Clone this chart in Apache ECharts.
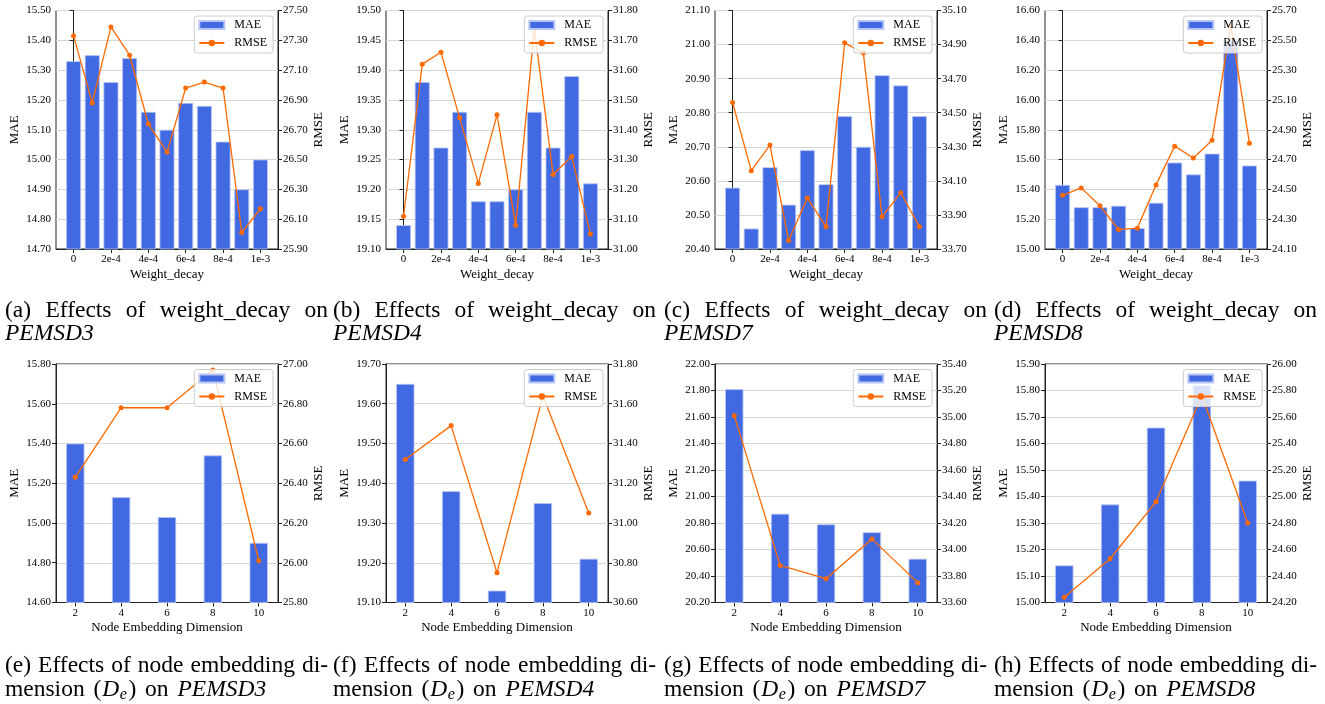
<!DOCTYPE html>
<html>
<head>
<meta charset="utf-8">
<style>
  html, body { margin: 0; padding: 0; background: #fff; }
  #main { width: 1325px; height: 704px; }
</style>
<script src="https://cdn.jsdelivr.net/npm/echarts@6/dist/echarts.min.js"></script>
</head>
<body>
<div id="main"></div>
<script>
// x positions and tick labels
const decayX = [0, 1, 2, 3, 4, 5, 6, 7, 8, 9, 10];
const decayTicks = [0, 2, 4, 6, 8, 10];
const decayTickLabels = ['0', '2e-4', '4e-4', '6e-4', '8e-4', '1e-3'];
const dimX = [2, 4, 6, 8, 10];
const dimTickLabels = ['2', '4', '6', '8', '10'];

// weight_decay panels
const maeA = [15.33, 15.35, 15.26, 15.34, 15.16, 15.10, 15.19, 15.18, 15.06, 14.90, 15.00];
const rmseA = [27.33, 26.88, 27.39, 27.20, 26.74, 26.55, 26.98, 27.02, 26.98, 26.01, 26.17];
const maeB = [19.14, 19.38, 19.27, 19.33, 19.18, 19.18, 19.20, 19.33, 19.27, 19.39, 19.21];
const rmseB = [31.11, 31.62, 31.66, 31.44, 31.22, 31.45, 31.08, 31.74, 31.25, 31.31, 31.05];
const maeC = [20.58, 20.46, 20.64, 20.53, 20.69, 20.59, 20.79, 20.70, 20.91, 20.88, 20.79];
const rmseC = [34.56, 34.16, 34.31, 33.75, 34.00, 33.83, 34.91, 34.85, 33.89, 34.03, 33.83];
const maeD = [15.43, 15.28, 15.28, 15.29, 15.14, 15.31, 15.58, 15.50, 15.64, 16.40, 15.56];
const rmseD = [24.46, 24.51, 24.39, 24.23, 24.24, 24.53, 24.79, 24.71, 24.83, 25.60, 24.81];

// node embedding dimension panels
const maeE = [15.40, 15.13, 15.03, 15.34, 14.90];
const rmseE = [26.43, 26.78, 26.78, 26.97, 26.01];
const maeF = [19.65, 19.38, 19.13, 19.35, 19.21];
const rmseF = [31.32, 31.49, 30.75, 31.64, 31.05];
const maeG = [21.81, 20.87, 20.79, 20.73, 20.53];
const rmseG = [35.01, 33.88, 33.78, 34.08, 33.75];
const maeH = [15.14, 15.37, 15.66, 15.82, 15.46];
const rmseH = [24.24, 24.53, 24.96, 25.76, 24.80];

// axis ranges [min, max, interval]
const maeAxes = [[14.7, 15.5, 0.1], [19.1, 19.5, 0.05], [20.4, 21.1, 0.1], [15.0, 16.6, 0.2],
                 [14.6, 15.8, 0.2], [19.1, 19.7, 0.1], [20.2, 22.0, 0.2], [15.0, 15.9, 0.1]];
const rmseAxes = [[25.9, 27.5, 0.2], [31.0, 31.8, 0.1], [33.7, 35.1, 0.2], [24.1, 25.7, 0.2],
                  [25.8, 27.0, 0.2], [30.6, 31.8, 0.2], [33.6, 35.4, 0.2], [24.2, 26.0, 0.2]];
const datasets = ['PEMSD3', 'PEMSD4', 'PEMSD7', 'PEMSD8'];
const letters = ['a', 'b', 'c', 'd', 'e', 'f', 'g', 'h'];

const maeAll = [maeA, maeB, maeC, maeD, maeE, maeF, maeG, maeH];
const rmseAll = [rmseA, rmseB, rmseC, rmseD, rmseE, rmseF, rmseG, rmseH];

const FONT = 'Liberation Serif';
const colLeft = [56, 386, 715, 1045];
const rowTop = [10.5, 364];
const gridW = 222, gridH = 238.5;
const blue = '#4169e1', orange = '#ff6a00', spine = '#222';

const grids = [], xAxes = [], yAxes = [], series = [], legends = [];

for (let i = 0; i < 8; i++) {
  const row = i < 4 ? 0 : 1;
  const col = i % 4;
  const isDecay = row === 0;
  const xs = isDecay ? decayX : dimX;
  const ticks = isDecay ? decayTicks : dimX;
  const tickLabels = isDecay ? decayTickLabels : dimTickLabels;
  const xmin = isDecay ? -0.94 : 1.16;
  const xmax = isDecay ? 10.94 : 10.84;
  const barW = 0.8 * gridW / (xmax - xmin);

  grids.push({
    left: colLeft[col], top: rowTop[row], width: gridW, height: gridH,
    show: true, borderColor: spine, borderWidth: 1, backgroundColor: 'transparent'
  });

  xAxes.push({
    type: 'value', gridIndex: i, min: xmin, max: xmax,
    name: isDecay ? 'Weight_decay' : 'Node Embedding Dimension',
    nameLocation: 'middle', nameGap: 19,
    nameTextStyle: { fontFamily: FONT, fontSize: 13, color: '#000' },
    axisLine: { show: true, onZero: false, lineStyle: { color: spine } },
    axisTick: { show: true, length: 4, customValues: ticks, lineStyle: { color: spine } },
    axisLabel: {
      customValues: ticks, margin: 5,
      fontFamily: FONT, fontSize: 11, color: '#000',
      formatter: v => tickLabels[ticks.indexOf(v)]
    },
    splitLine: { show: false }
  });

  const ma = maeAxes[i], ra = rmseAxes[i];
  yAxes.push({
    type: 'value', gridIndex: i, position: 'left',
    min: ma[0], max: ma[1], interval: ma[2],
    name: 'MAE', nameLocation: 'middle', nameGap: 35, nameRotate: 90,
    nameTextStyle: { fontFamily: FONT, fontSize: 13, color: '#000' },
    axisLine: { show: true, lineStyle: { color: spine } },
    axisTick: { show: true, length: 4, lineStyle: { color: spine } },
    axisLabel: { margin: 5, fontFamily: FONT, fontSize: 11, color: '#000', formatter: v => v.toFixed(2) },
    splitLine: { show: false }
  });
  yAxes.push({
    type: 'value', gridIndex: i, position: 'right',
    min: ra[0], max: ra[1], interval: ra[2],
    name: 'RMSE', nameLocation: 'middle', nameGap: 32, nameRotate: 90,
    nameTextStyle: { fontFamily: FONT, fontSize: 13, color: '#000' },
    axisLine: { show: true, lineStyle: { color: spine } },
    axisTick: { show: true, length: 4, lineStyle: { color: spine } },
    axisLabel: { margin: 5, fontFamily: FONT, fontSize: 11, color: '#000', formatter: v => v.toFixed(2) },
    splitLine: { show: true, lineStyle: { color: '#d6d6d6', width: 1 } }
  });

  series.push({
    name: 'MAE', type: 'bar', xAxisIndex: i, yAxisIndex: 2 * i,
    barWidth: barW, clip: true,
    itemStyle: { color: blue, borderColor: '#b9c6f4', borderWidth: 0.8 },
    data: maeAll[i].map((v, k) => [xs[k], v])
  });
  series.push({
    name: 'RMSE', type: 'line', xAxisIndex: i, yAxisIndex: 2 * i + 1,
    symbol: 'circle', symbolSize: 5,
    lineStyle: { color: orange, width: 1.3 },
    itemStyle: { color: orange },
    data: rmseAll[i].map((v, k) => [xs[k], v])
  });

  legends.push({
    orient: 'vertical',
    right: 1325 - (colLeft[col] + gridW - 5),
    top: rowTop[row] + 5.5,
    itemWidth: 25, itemHeight: 8, itemGap: 6,
    padding: [3, 6, 4, 4],
    backgroundColor: 'rgba(255,255,255,0.8)',
    borderColor: '#cccccc', borderWidth: 1, borderRadius: 3,
    textStyle: { fontFamily: FONT, fontSize: 12, color: '#000', padding: [0, 0, 0, 5] },
    data: [{ name: 'MAE', icon: 'rect' }, { name: 'RMSE' }]
  });
}

// captions, laid out as justified text
const ctx = document.createElement('canvas').getContext('2d');
function textW(str, font) { ctx.font = font; return ctx.measureText(str).width; }
const capSize = 23.5;
const capFont = capSize + 'px "' + FONT + '"';
const capItalic = 'italic ' + capSize + 'px "' + FONT + '"';
const subFont = 'italic ' + Math.round(capSize * 0.7) + 'px "' + FONT + '"';
const capLeft = [5, 333, 664, 994];
const capW = 323;
const capLineY = [[311, 334], [666, 690]];
const graphics = [];

function justified(line, x0, y) {
  const words = line.split(' ');
  const widths = words.map(w => textW(w, capFont));
  const total = widths.reduce((a, b) => a + b, 0);
  const gap = Math.max(3, (capW - total) / (words.length - 1));
  let x = x0;
  words.forEach((w, k) => {
    graphics.push({ type: 'text', x: x, y: y, style: { text: w, font: capFont, fill: '#000', verticalAlign: 'middle' } });
    x += widths[k] + gap;
  });
}
function runs(parts, x0, y) {
  let x = x0;
  parts.forEach(p => {
    x += p.pre || 0;
    graphics.push({ type: 'text', x: x, y: y + (p.dy || 0), style: { text: p.t, font: p.f, fill: '#000', verticalAlign: 'middle' } });
    x += textW(p.t, p.f);
  });
}

for (let i = 0; i < 8; i++) {
  const row = i < 4 ? 0 : 1;
  const col = i % 4;
  const x0 = capLeft[col];
  const [y1, y2] = capLineY[row];
  if (row === 0) {
    justified('(' + letters[i] + ') Effects of weight_decay on', x0, y1);
    runs([{ t: datasets[col], f: capItalic }], x0, y2);
  } else {
    justified('(' + letters[i] + ') Effects of node embedding di-', x0, y1);
    runs([
      { t: 'mension', f: capFont },
      { t: ' (', f: capFont, pre: 3 },
      { t: 'D', f: capItalic, pre: 1 },
      { t: 'e', f: subFont, dy: 5, pre: 0.5 },
      { t: ')', f: capFont, pre: 1.5 },
      { t: ' on', f: capFont, pre: 3 },
      { t: ' ' + datasets[col], f: capItalic, pre: 3 }
    ], x0, y2);
  }
}

const chart = echarts.init(document.getElementById('main'), null, { renderer: 'canvas' });
chart.setOption({
  animation: false,
  backgroundColor: '#fff',
  grid: grids,
  xAxis: xAxes,
  yAxis: yAxes,
  legend: legends,
  series: series,
  graphic: graphics
});
</script>
</body>
</html>
